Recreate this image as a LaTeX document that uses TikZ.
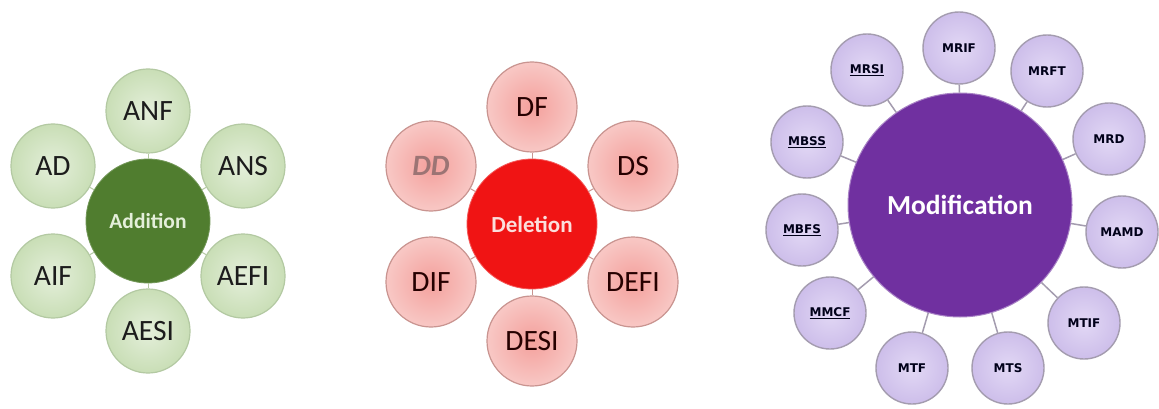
\documentclass[tikz,border=0pt]{standalone}
\usepackage{fontspec}
\setmainfont{Carlito}
\newfontfamily\verd{DejaVu Sans}
\definecolor{agreen}{HTML}{507D2F}
\definecolor{agin}{HTML}{E4EFDA}
\definecolor{agout}{HTML}{C9DEB6}
\definecolor{agline}{HTML}{B3C9A2}
\definecolor{dred}{HTML}{F01414}
\definecolor{drin}{HTML}{F4A09C}
\definecolor{drout}{HTML}{F8C8C5}
\definecolor{drline}{HTML}{C99490}
\definecolor{ddtxt}{HTML}{9C7474}
\definecolor{mpur}{HTML}{7030A0}
\definecolor{mpin}{HTML}{E2D8F5}
\definecolor{mpout}{HTML}{CDBEEA}
\definecolor{mpline}{HTML}{A49CAF}
\definecolor{txtdark}{HTML}{1C1C1C}
\tikzset{
  abig/.style={circle, minimum size=124pt, inner sep=0pt, fill=agreen, draw=agreen!80!white, line width=0.8pt,
    text=agin, font=\fontsize{21.5}{23}\selectfont\bfseries},
  asat/.style={circle, minimum size=84pt, inner sep=0pt, inner color=agin, outer color=agout, draw=agline, line width=1.2pt,
    text=txtdark, font=\fontsize{29.5}{31}\selectfont},
  dbig/.style={circle, minimum size=130pt, inner sep=0pt, fill=dred, draw=dred!70!white, line width=0.8pt,
    text=drout!60!white, font=\fontsize{23}{25}\selectfont\bfseries},
  dsat/.style={circle, minimum size=90pt, inner sep=0pt, inner color=drin, outer color=drout, draw=drline, line width=1.2pt,
    text=black!85!red, font=\fontsize{29.5}{31}\selectfont},
  mbig/.style={circle, minimum size=224pt, inner sep=0pt, fill=mpur, draw=mpur!60!white, line width=1pt,
    text=white, font=\fontsize{27.5}{29}\selectfont\bfseries},
  msat/.style={circle, minimum size=72pt, inner sep=0pt, inner color=mpin, outer color=mpout, draw=mpline, line width=1.4pt,
    text=black!90!blue, font=\verd\fontsize{12}{13}\selectfont\bfseries},
  aconn/.style={draw=agline, line width=1pt},
  dconn/.style={draw=drline, line width=1pt},
  mconn/.style={draw=mpline, line width=1.5pt},
}
\begin{document}
\begin{tikzpicture}[x=1pt,y=-1pt]
\useasboundingbox (0,0) rectangle (1159,409);
\fill[white] (0,0) rectangle (1159,409);
% Addition
\node[abig] (add) at (148,221) {Addition};
\node[asat] (anf) at (148,111) {ANF};
\node[asat] (ans) at (243,166) {ANS};
\node[asat] (aefi) at (243,276) {AEFI};
\node[asat] (aesi) at (148,331) {AESI};
\node[asat] (aif) at (53,276) {AIF};
\node[asat] (ad) at (53,166) {AD};
\foreach \s in {anf,ans,aefi,aesi,aif,ad} \draw[aconn] (add) -- (\s);
% Deletion
\node[dbig] (del) at (532,224) {Deletion};
\node[dsat] (df) at (532,107) {DF};
\node[dsat] (ds) at (633,166) {DS};
\node[dsat] (defi) at (633,282) {DEFI};
\node[dsat] (desi) at (532,341) {DESI};
\node[dsat] (dif) at (431,282) {DIF};
\node[dsat, text=ddtxt] (dd) at (431,166) {\bfseries\itshape DD};
\foreach \s in {df,ds,defi,desi,dif,dd} \draw[dconn] (del) -- (\s);
% Modification
\node[mbig] (mod) at (960,205) {Modification};
\node[msat] (mrif) at (959,48) {MRIF};
\node[msat] (mrft) at (1047,71) {MRFT};
\node[msat] (mrd) at (1109,139) {MRD};
\node[msat] (mamd) at (1122,232) {MAMD};
\node[msat] (mtif) at (1084,323) {MTIF};
\node[msat] (mts) at (1008,368) {MTS};
\node[msat] (mtf) at (912,368) {MTF};
\node[msat] (mmcf) at (830,313) {\underline{MMCF}};
\node[msat] (mbfs) at (802,230) {\underline{MBFS}};
\node[msat] (mbss) at (807,142) {\underline{MBSS}};
\node[msat] (mrsi) at (867,70) {\underline{MRSI}};
\foreach \s in {mrif,mrft,mrd,mamd,mtif,mts,mtf,mmcf,mbfs,mbss,mrsi} \draw[mconn] (mod) -- (\s);
\end{tikzpicture}
\end{document}
